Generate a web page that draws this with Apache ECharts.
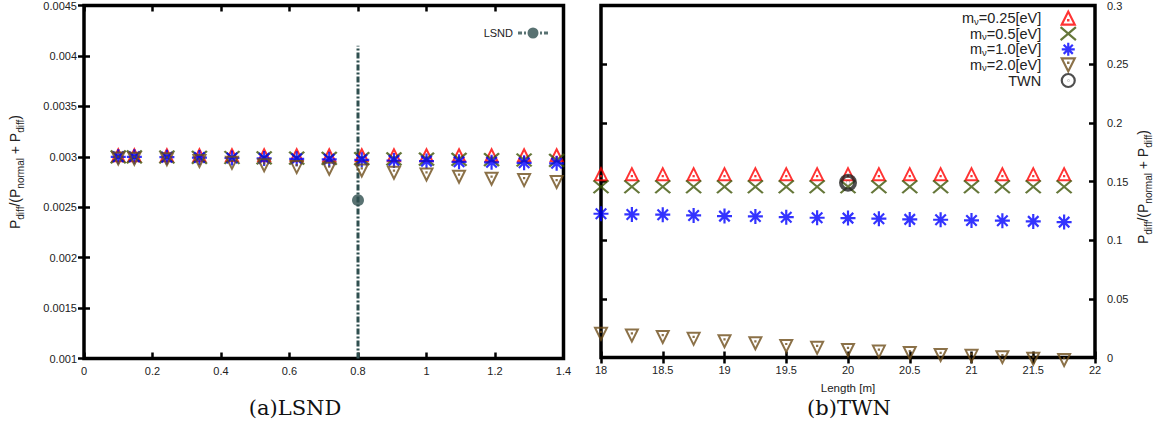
<!DOCTYPE html>
<html><head><meta charset="utf-8">
<script src="https://cdn.jsdelivr.net/npm/echarts@6/dist/echarts.min.js"></script>
<style>html,body{margin:0;padding:0;background:#fff}#c{width:1161px;height:429px}</style>
</head><body><div id="c"></div>
<script>
// ---------- data: (a) LSND ----------
const lsndX = [0.1, 0.147, 0.242, 0.337, 0.432, 0.526, 0.621, 0.716, 0.811, 0.905, 1.0, 1.095, 1.19, 1.285, 1.38];
const lsndM025 = [0.003, 0.003, 0.003, 0.003, 0.003, 0.003, 0.003, 0.003, 0.003, 0.003, 0.003, 0.003, 0.003, 0.003, 0.003];
const lsndM05  = [0.003, 0.003, 0.002998, 0.002995, 0.002993, 0.00299, 0.002987, 0.002985, 0.002982, 0.00298, 0.002977, 0.002974, 0.002971, 0.002968, 0.002965];
const lsndM10  = [0.003, 0.003, 0.002996, 0.002992, 0.002988, 0.002984, 0.00298, 0.002975, 0.00297, 0.002963, 0.002957, 0.00295, 0.002945, 0.00294, 0.002935];
const lsndM20  = [0.002982, 0.00298, 0.002975, 0.002958, 0.00294, 0.002916, 0.002898, 0.002882, 0.002865, 0.002842, 0.002825, 0.002803, 0.002783, 0.002769, 0.00275];
const lsndExp = [[0.8, 0.00257]];
const lsndErr = [[0.8, 0.001, 0.0041]];
const lsndXTicks = {min: 0, max: 1.4, interval: 0.2};
const lsndYTicks = {min: 0.001, max: 0.0045, interval: 0.0005};
// ---------- data: (b) TWN ----------
const twnX = [18, 18.25, 18.5, 18.75, 19, 19.25, 19.5, 19.75, 20, 20.25, 20.5, 20.75, 21, 21.25, 21.5, 21.75];
const twnM025 = [0.155, 0.155, 0.155, 0.155, 0.155, 0.155, 0.155, 0.155, 0.155, 0.155, 0.155, 0.155, 0.155, 0.155, 0.155, 0.155];
const twnM05  = [0.1455, 0.1455, 0.1455, 0.1455, 0.1455, 0.1455, 0.1455, 0.1455, 0.1455, 0.1455, 0.1455, 0.1455, 0.1455, 0.1455, 0.1455, 0.1455];
const twnM10  = [0.1225, 0.1219, 0.1217, 0.1211, 0.1205, 0.1202, 0.1196, 0.1191, 0.1188, 0.1183, 0.1177, 0.1174, 0.1168, 0.1166, 0.116, 0.1154];
const twnM20  = [0.0232, 0.0218, 0.0204, 0.0189, 0.0168, 0.0151, 0.0128, 0.0112, 0.0094, 0.0080, 0.0068, 0.0052, 0.0044, 0.0033, 0.0020, 0.0008];
const twnExp = [[20, 0.149]];
const twnXTicks = {min: 18, max: 22, interval: 0.5};
const twnYTicks = {min: 0, max: 0.3, interval: 0.05};
const seriesNames = ['m\u03bd=0.25[eV]', 'm\u03bd=0.5[eV]', 'm\u03bd=1.0[eV]', 'm\u03bd=2.0[eV]', 'TWN'];

// ---------- styling ----------
const FONT = 'Liberation Sans';
const TXT = '#222';
const UP = 'path://M0,20L10,0L20,20Z M9.8,13.1h0.4v0.4h-0.4Z';
const DOWN = 'path://M0,0L20,0L10,20Z M9.8,6.5h0.4v0.4h-0.4Z';
const XS = 'path://M0,0L20,17M20,0L0,17';
const STAR = 'path://M0,10L20,10M10,0L10,20M3,3L17,17M17,3L3,17';
const RING = 'path://M0,10A10 10 0 1 1 20,10A10 10 0 1 1 0,10Z M9.8,10A0.2 0.2 0 1 1 10.2,10A0.2 0.2 0 1 1 9.8,10Z';
const LSNDICON = 'path://M0,4.5h4v3h-4Z M6,4.5h2v3h-2Z M9.5,6A5.5 5.5 0 1 1 20.5,6A5.5 5.5 0 1 1 9.5,6Z M22,4.5h2v3h-2Z M26,4.5h4v3h-4Z';
const COLORS = ['#ff0000', '#3f5508', '#0000ff', '#6e4e1a', '#222222'];

function sc(name, xs, ys, sym, size, off, color, ai, bw) {
  return {
    type: 'scatter', name, xAxisIndex: ai, yAxisIndex: ai,
    data: xs.map((x, i) => [x, ys[i]]),
    symbol: sym, symbolSize: size, symbolOffset: off,
    itemStyle: {color: 'rgba(0,0,0,0)', borderColor: color, borderWidth: bw || 2},
    emphasis: {disabled: true}, z: 3
  };
}

const tickStyle = {show: true, inside: true, length: 6, lineStyle: {color: '#000', width: 2.5}};
const lab = {fontFamily: FONT, fontSize: 11, color: TXT};

function xAx(grid, t, pos, showLab, fmt, extra) {
  return Object.assign({
    type: 'value', gridIndex: grid, position: pos, min: t.min, max: t.max, interval: t.interval,
    axisLine: {show: false}, axisTick: tickStyle, splitLine: {show: false},
    axisLabel: Object.assign({show: showLab, margin: 7, formatter: fmt}, lab)
  }, extra || {});
}
function yAx(grid, t, pos, showLab, fmt, margin) {
  return {
    type: 'value', gridIndex: grid, position: pos, min: t.min, max: t.max, interval: t.interval,
    axisLine: {show: false}, axisTick: tickStyle, splitLine: {show: false},
    axisLabel: Object.assign({show: showLab, margin: margin, formatter: fmt}, lab)
  };
}

const chart = echarts.init(document.getElementById('c'), null, {renderer: 'svg', width: 1161, height: 429});
const titleRich = {
  p: {fontSize: 14, lineHeight: 20, fontFamily: FONT, fill: TXT, color: TXT},
  s: {fontSize: 10, lineHeight: 12, verticalAlign: 'bottom', fontFamily: FONT, fill: TXT, color: TXT}
};
const titleText = '{p|P}{s|diff}{p|/(P}{s|normal}{p| + P}{s|diff}{p|)}';

chart.setOption({
  animation: false,
  backgroundColor: '#fff',
  grid: [
    {left: 84, top: 3.5, width: 479.5, height: 355, show: true, borderColor: '#000', borderWidth: 3.5, backgroundColor: 'transparent'},
    {left: 601, top: 3.5, width: 494, height: 354, show: true, borderColor: '#000', borderWidth: 3.5, backgroundColor: 'transparent'}
  ],
  xAxis: [
    xAx(0, lsndXTicks, 'bottom', true, v => String(+v.toFixed(1))),
    xAx(0, lsndXTicks, 'top', false),
    xAx(1, twnXTicks, 'bottom', true, v => String(+v.toFixed(1)), {
      name: 'Length [m]', nameLocation: 'middle', nameGap: 24,
      nameTextStyle: {fontFamily: FONT, fontSize: 11.5, color: TXT}
    }),
    xAx(1, twnXTicks, 'top', false)
  ],
  yAxis: [
    yAx(0, lsndYTicks, 'left', true, v => String(+v.toFixed(4)), 7),
    yAx(0, lsndYTicks, 'right', false),
    yAx(1, twnYTicks, 'right', true, v => String(+v.toFixed(2)), 12),
    yAx(1, twnYTicks, 'left', false)
  ],
  legend: [
    {
      data: seriesNames, orient: 'vertical', align: 'right', right: 84, top: 10.5, padding: 0,
      itemWidth: 44, itemHeight: 13, itemGap: 0,
      itemStyle: {borderWidth: 2.2},
      formatter: n => n.charAt(0) === 'm' ? '{t|m}{s|\u03bd}{t|' + n.slice(2) + '}' : '{t|' + n + '}',
      textStyle: {
        color: TXT,
        rich: {
          t: {fontFamily: FONT, fontSize: 14.5, lineHeight: 16, color: TXT},
          s: {fontFamily: FONT, fontSize: 9.5, lineHeight: 9, verticalAlign: 'bottom', color: TXT}
        }
      },
      selectedMode: false
    },
    {
      data: [{name: 'LSND', icon: LSNDICON}], orient: 'vertical', align: 'right', right: 613, top: 27.5, padding: 0,
      itemWidth: 30, itemHeight: 12, itemStyle: {borderWidth: 0},
      textStyle: {fontFamily: FONT, fontSize: 11, color: TXT},
      selectedMode: false
    }
  ],
  series: [
    sc(seriesNames[0], lsndX, lsndM025, UP, [12, 12], [0, -1.5], COLORS[0], 0),
    sc(seriesNames[1], lsndX, lsndM05, XS, [15, 12.75], [0, 0], COLORS[1], 0, 2.2),
    sc(seriesNames[2], lsndX, lsndM10, STAR, [15, 15], [0, 0], COLORS[2], 0, 2.2),
    sc(seriesNames[3], lsndX, lsndM20, DOWN, [12, 12], [0, 0], COLORS[3], 0),
    {
      type: 'custom', name: 'LSND error', xAxisIndex: 0, yAxisIndex: 0, data: lsndErr, z: 2,
      renderItem: (params, api) => {
        const p1 = api.coord([api.value(0), api.value(1)]);
        const p2 = api.coord([api.value(0), api.value(2)]);
        return {type: 'line', shape: {x1: p1[0], y1: p1[1], x2: p2[0], y2: p2[1]},
          style: {stroke: '#2f4f4f', lineWidth: 3, lineDash: [6, 2, 2, 2]}};
      }
    },
    {
      type: 'scatter', name: 'LSND', xAxisIndex: 0, yAxisIndex: 0, data: lsndExp,
      symbol: 'circle', symbolSize: 12, itemStyle: {color: '#2f4f4f'}, z: 4, emphasis: {disabled: true}
    },
    sc(seriesNames[0], twnX, twnM025, UP, [12, 12], [0, -1.5], COLORS[0], 2),
    sc(seriesNames[1], twnX, twnM05, XS, [15, 12.75], [0, 0], COLORS[1], 2, 2.2),
    sc(seriesNames[2], twnX, twnM10, STAR, [15, 15], [0, 0], COLORS[2], 2, 2.2),
    sc(seriesNames[3], twnX, twnM20, DOWN, [12, 12], [0, 3.5], COLORS[3], 2),
    Object.assign(sc(seriesNames[4], twnExp.map(d => d[0]), twnExp.map(d => d[1]), RING, [14, 14], [0, 0], COLORS[4], 2, 4), {z: 4})
  ],
  graphic: [
    {type: 'text', x: 15, y: 172, rotation: Math.PI / 2, silent: true,
      style: {text: titleText, rich: titleRich, fill: TXT, align: 'center', verticalAlign: 'middle'}},
    {type: 'text', x: 1143, y: 187, rotation: Math.PI / 2, silent: true,
      style: {text: titleText, rich: titleRich, fill: TXT, align: 'center', verticalAlign: 'middle'}},
    {type: 'text', x: 295, y: 408, silent: true,
      style: {text: '(a)LSND', fontFamily: 'DejaVu Serif', fontSize: 21, fill: '#111', align: 'center', verticalAlign: 'middle'}},
    {type: 'text', x: 849, y: 408, silent: true,
      style: {text: '(b)TWN', fontFamily: 'DejaVu Serif', fontSize: 21, fill: '#111', align: 'center', verticalAlign: 'middle'}}
  ]
});
</script>
</body></html>
